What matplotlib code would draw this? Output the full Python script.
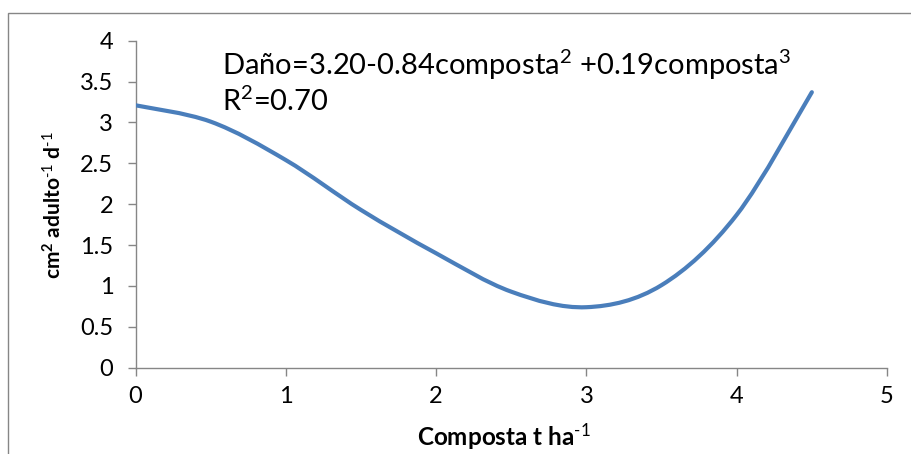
import matplotlib
matplotlib.use("Agg")
import matplotlib.pyplot as plt
import numpy as np
from matplotlib.path import Path
from matplotlib.patches import PathPatch, Rectangle

# Data
composta = [0.0, 0.5, 1.0, 1.5, 2.0, 2.5, 3.0, 3.5, 4.0, 4.5]
dano = [3.21, 3.01, 2.54, 1.93, 1.40, 0.93, 0.74, 1.01, 1.87, 3.37]
x_ticks = [0, 1, 2, 3, 4, 5]
y_ticks = [0, 0.5, 1, 1.5, 2, 2.5, 3, 3.5, 4]
y_tick_labels = ["0", "0.5", "1", "1.5", "2", "2.5", "3", "3.5", "4"]
equation = r"Daño=3.20-0.84composta$^{2}$ +0.19composta$^{3}$"
r2_text = r"R$^{2}$=0.70"
xlabel = r"Composta t ha$^{\text{-1}}$"
ylabel = r"cm$^{2}$ adulto$^{\text{-1}}$ d$^{\text{-1}}$"

FONT = "Lato"
plt.rcParams["font.family"] = [FONT, "DejaVu Sans"]
plt.rcParams["mathtext.fontset"] = "custom"
plt.rcParams["mathtext.rm"] = FONT
plt.rcParams["mathtext.it"] = FONT + ":italic"
plt.rcParams["mathtext.bf"] = FONT + ":bold"
plt.rcParams["mathtext.default"] = "regular"

LINE_COLOR = "#4a7ebb"
AXIS_COLOR = "#868686"

fig = plt.figure(figsize=(9.12, 4.54), dpi=100)
W, H = 912, 454
# outer chart border (top and left visible)
fig.patches.append(Rectangle((8 / W, -0.1), 1.2, 1 - 13 / H + 0.1, transform=fig.transFigure,
                             fill=False, edgecolor=AXIS_COLOR, linewidth=1.0))

ax = fig.add_axes([135.5 / W, 1 - 367.7 / H, (887 - 135.5) / W, (367.7 - 40.7) / H])
ax.set_xlim(0, 5)
ax.set_ylim(0, 4)

# Excel-like smoothed line (cubic Bezier through the data points)
pts = np.column_stack([np.array(composta), np.array(dano)])
n = len(pts)
verts = [tuple(pts[0])]
codes = [Path.MOVETO]
for i in range(n - 1):
    p0 = pts[i - 1] if i > 0 else pts[i]
    p1 = pts[i]
    p2 = pts[i + 1]
    p3 = pts[i + 2] if i + 2 < n else pts[i + 1]
    c1 = p1 + (p2 - p0) / 6.0
    c2 = p2 - (p3 - p1) / 6.0
    verts += [tuple(c1), tuple(c2), tuple(p2)]
    codes += [Path.CURVE4] * 3
ax.add_patch(PathPatch(Path(verts, codes), facecolor="none", edgecolor=LINE_COLOR,
                       linewidth=3.0, capstyle="round", joinstyle="round",
                       transform=ax.transData, zorder=3))

for s in ["top", "right"]:
    ax.spines[s].set_visible(False)
for s in ["left", "bottom"]:
    ax.spines[s].set_color(AXIS_COLOR)
    ax.spines[s].set_linewidth(1.0)

ax.set_xticks(x_ticks)
ax.set_xticklabels([str(t) for t in x_ticks])
ax.set_yticks(y_ticks)
ax.set_yticklabels(y_tick_labels)
ax.tick_params(axis="both", direction="out", length=6, width=1.0, color=AXIS_COLOR,
               labelsize=17, labelcolor="black")
ax.tick_params(axis="x", pad=7)
ax.tick_params(axis="y", pad=10)

fig.text(504 / W, 1 - 446 / H, xlabel, fontsize=17.5, fontweight="bold",
         ha="center", va="baseline")
fig.text(54 / W, 1 - 205 / H, ylabel, fontsize=15, fontweight="bold",
         ha="center", va="center", rotation=90)

fig.text(222 / W, 1 - 75 / H, equation, fontsize=21, ha="left", va="baseline")
fig.text(222 / W, 1 - 111 / H, r2_text, fontsize=21, ha="left", va="baseline")

fig.savefig("out.png", dpi=100)
